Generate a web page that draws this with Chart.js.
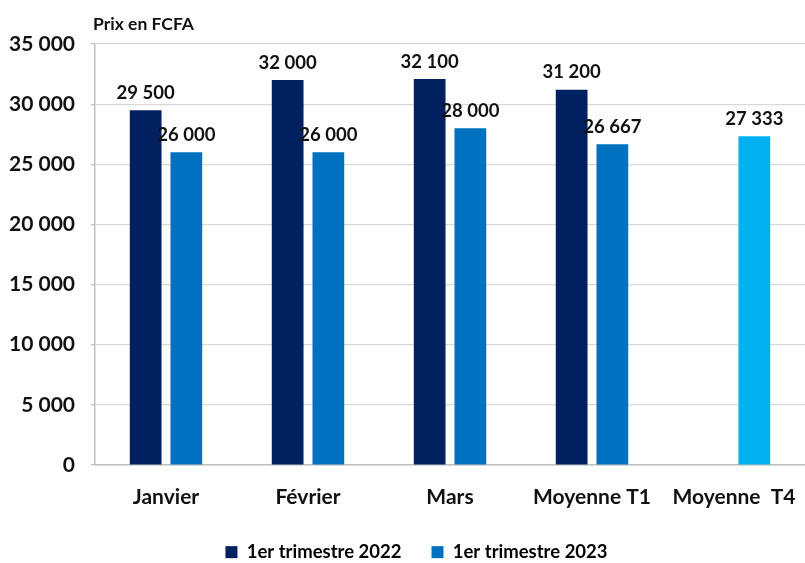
<!DOCTYPE html>
<html>
<head>
<meta charset="utf-8">
<script src="https://cdn.jsdelivr.net/npm/chart.js@4.4.0/dist/chart.umd.min.js"></script>
<style>
html,body{margin:0;padding:0;background:#fff;}
#wrap{width:805px;height:563px;}
</style>
</head>
<body>
<div id="wrap"><canvas id="c" width="805" height="563"></canvas></div>
<script>
const categories = ["Janvier", "Février", "Mars", "Moyenne T1", "Moyenne  T4"];
const series2022 = [29500, 32000, 32100, 31200, null];
const series2023 = [26000, 26000, 28000, 26667, 27333];
const seriesNames = ["1er trimestre 2022", "1er trimestre 2023"];
const yTicks = [0, 5000, 10000, 15000, 20000, 25000, 30000, 35000];
const unitTitle = "Prix en FCFA";

const FONT = "Lato, 'Open Sans', sans-serif";
const fmt = v => String(Math.round(v)).replace(/\B(?=(\d{3})+(?!\d))/g, " ");

const colors2023 = ["#0070C0", "#0070C0", "#0070C0", "#0070C0", "#00B0F0"];

const valueLabels = {
  id: "valueLabels",
  afterDatasetsDraw(chart) {
    const ctx = chart.ctx;
    ctx.save();
    ctx.font = "bold 18.5px " + FONT;
    ctx.fillStyle = "#111";
    ctx.textAlign = "center";
    ctx.textBaseline = "bottom";
    chart.data.datasets.forEach((ds, i) => {
      const meta = chart.getDatasetMeta(i);
      meta.data.forEach((bar, j) => {
        const v = ds.data[j];
        if (v == null) return;
        ctx.fillText(fmt(v), bar.x, bar.y - 8);
      });
    });
    ctx.restore();
  }
};

const unitLabel = {
  id: "unitLabel",
  afterDraw(chart) {
    const ctx = chart.ctx;
    ctx.save();
    ctx.font = "bold 17.5px " + FONT;
    ctx.fillStyle = "#111";
    ctx.textAlign = "left";
    ctx.textBaseline = "middle";
    ctx.fillText(unitTitle, chart.chartArea.left - 2, 24);
    ctx.restore();
  }
};

// reserve a thin strip for the legend, then move it to its reference position
const LEGEND_STRIP = 30;
const legendShift = {
  id: "legendShift",
  afterInit(chart) {
    const lg = chart.legend;
    if (!lg || lg._patched) return;
    const fit = lg.fit;
    lg.fit = function () { fit.call(this); this.height = LEGEND_STRIP; };
    lg._patched = true;
  },
  afterLayout(chart) {
    const lg = chart.legend;
    if (!lg) return;
    const itemCenter = lg.top + lg.options.labels.padding + lg.options.labels.font.size * 0.6;
    const d = 554 - itemCenter;
    lg.top += d;
    lg.bottom = chart.height + 40;
    lg.height = lg.bottom - lg.top;
    lg.left += 14; lg.right += 14;
    if (lg.legendHitBoxes) lg.legendHitBoxes.forEach(h => { h.top += d; h.left += 14; });
  }
};

new Chart(document.getElementById("c"), {
  type: "bar",
  data: {
    labels: categories,
    datasets: [
      { label: seriesNames[0], data: series2022, backgroundColor: "#002060", borderWidth: 0,
        categoryPercentage: 0.573, barPercentage: 0.78 },
      { label: seriesNames[1], data: series2023, backgroundColor: colors2023, borderWidth: 0,
        categoryPercentage: 0.573, barPercentage: 0.78 }
    ]
  },
  options: {
    responsive: false,
    animation: false,
    layout: { autoPadding: false, padding: { top: 44, right: 0, left: 0, bottom: 0 } },
    plugins: {
      legend: {
        position: "bottom",
        labels: {
          font: { family: FONT, size: 18.5, weight: "bold" },
          color: "#111",
          boxWidth: 12, boxHeight: 12, padding: 30,
          generateLabels(chart) {
            return chart.data.datasets.map((ds, i) => ({
              text: ds.label,
              fillStyle: i === 0 ? "#002060" : "#0070C0",
              strokeStyle: "transparent",
              lineWidth: 0,
              datasetIndex: i,
              hidden: false
            }));
          }
        }
      },
      tooltip: { enabled: false }
    },
    scales: {
      x: {
        grid: { display: false, drawTicks: false },
        border: { color: "#BFBFBF", width: 1.5 },
        ticks: { font: { family: FONT, size: 21, weight: "bold", lineHeight: 3.05 }, color: "#111", padding: 0, maxRotation: 0 },
        afterFit(scale) { scale.height = 563 - 465 - LEGEND_STRIP; }
      },
      y: {
        min: 0, max: 35000,
        afterBuildTicks(scale) { scale.ticks = yTicks.map(v => ({ value: v })); },
        grid: { color: "#D9D9D9", tickLength: 4, tickColor: "#BFBFBF", lineWidth: 1.2 },
        border: { color: "#BFBFBF", width: 1.5 },
        ticks: { font: { family: FONT, size: 21, weight: "bold" }, color: "#111", padding: 16,
          callback: v => fmt(v) },
        afterFit(scale) { scale.width = 95; }
      }
    }
  },
  plugins: [valueLabels, unitLabel, legendShift]
});
</script>
</body>
</html>
